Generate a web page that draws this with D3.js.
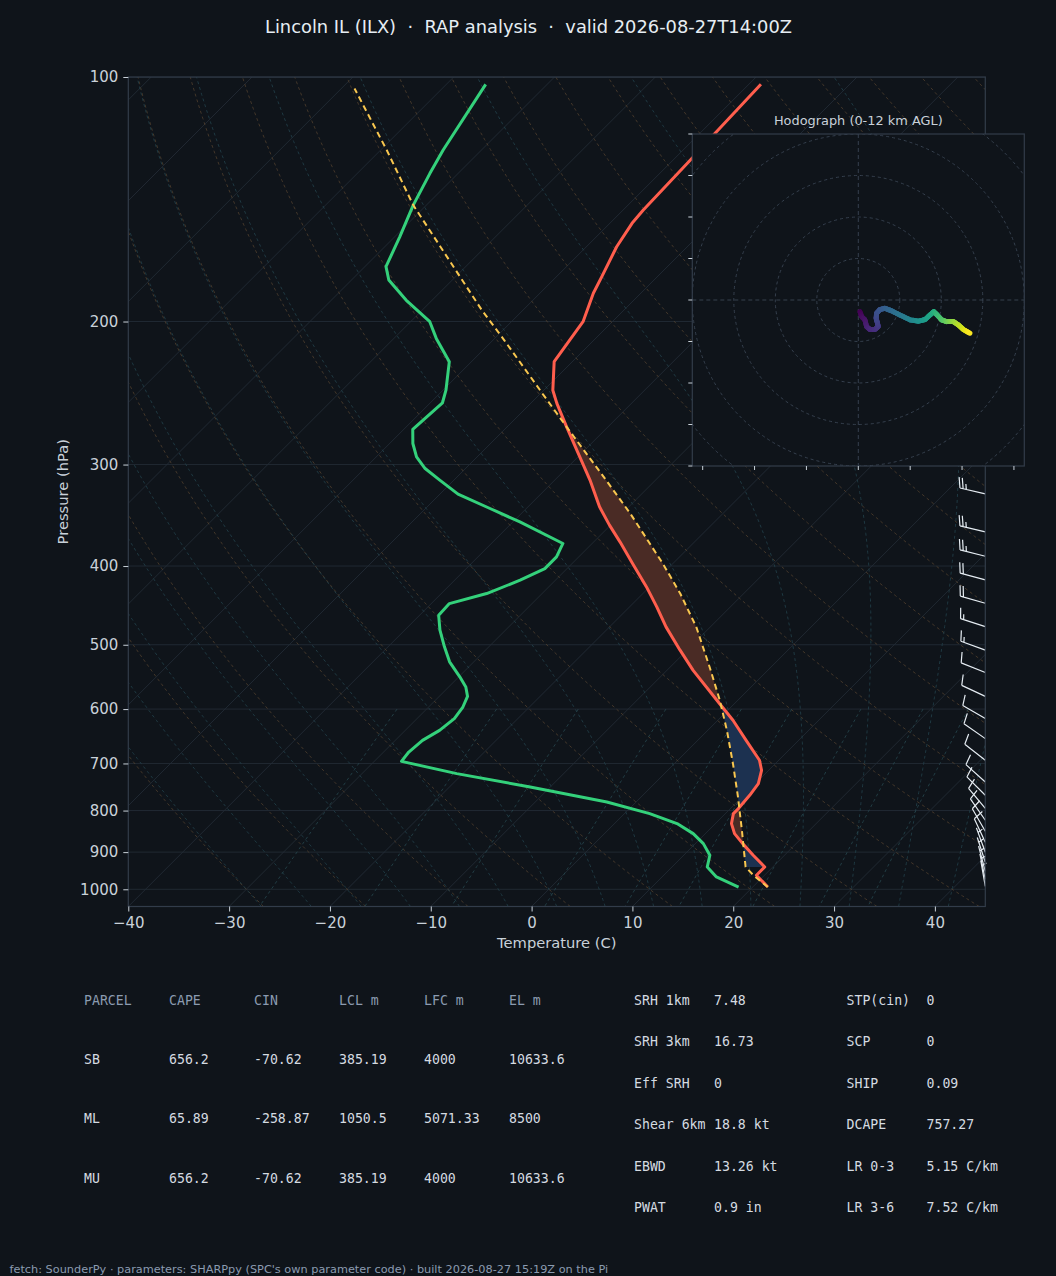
<!DOCTYPE html>
<html lang="en">
<head>
<meta charset="UTF-8">
<title>Skew-T Lincoln IL</title>
<style>
  html, body { margin: 0; padding: 0; background: #0f141a; }
  svg { display: block; }
</style>
</head>
<body>
<script src="https://cdn.jsdelivr.net/npm/d3@7"></script>
<script>
// ---- sounding (hPa, C) ----
const tempP = [993.6, 961.0, 938.6, 908.1, 878.6, 854.0, 830.1, 806.9, 795.5, 766.1, 741.1, 713.7, 693.7, 655.6, 619.3, 590.6, 537.6, 507.7, 475.3, 449.1, 424.4, 397.2, 373.5, 356.2, 338.2, 313.5, 269.6, 252.2, 243.0, 224.1, 200.1, 184.6, 176.2, 161.8, 151.4, 145.8, 125.9, 117.5, 102.1];
const tempT = [21.5, 19.2, 19.2, 16.9, 14.7, 12.9, 11.6, 10.8, 10.8, 10.6, 10.3, 9.3, 8.1, 4.8, 1.5, -1.5, -7.4, -10.7, -14.4, -17.3, -20.3, -24.0, -27.4, -30.1, -32.9, -36.5, -44.1, -47.4, -49.1, -51.8, -52.9, -54.7, -55.5, -57.0, -57.8, -58.0, -58.3, -58.5, -58.8];

const dewP = [993.6, 965.6, 938.6, 908.1, 878.6, 854.0, 830.1, 806.9, 780.8, 748.2, 720.5, 695.9, 677.7, 655.6, 637.3, 616.4, 596.5, 578.7, 563.5, 547.6, 524.8, 502.9, 479.7, 459.9, 444.9, 432.4, 416.4, 402.9, 389.8, 375.2, 353.0, 339.8, 326.2, 313.5, 303.4, 293.6, 282.6, 271.6, 251.8, 243.0, 224.1, 209.8, 200.1, 188.2, 177.8, 171.2, 157.3, 143.8, 131.4, 123.0, 102.1];
const dewT = [18.6, 15.4, 13.5, 12.6, 10.8, 8.8, 6.2, 2.5, -2.9, -12.0, -20.6, -27.3, -27.5, -27.3, -26.6, -26.3, -26.6, -27.2, -28.3, -29.9, -32.4, -34.4, -36.5, -38.1, -38.2, -35.5, -33.5, -32.2, -32.2, -32.9, -39.3, -43.6, -48.2, -51.4, -54.0, -56.0, -57.7, -59.1, -58.8, -59.7, -62.2, -65.8, -68.1, -72.6, -76.3, -77.9, -79.5, -81.3, -82.8, -83.8, -86.1];

const parcelP = [993.6, 961.0, 938.6, 846.0, 769.6, 700.3, 637.3, 585.0, 532.5, 475.3, 432.4, 397.2, 344.6, 312.0, 269.6, 245.3, 210.8, 193.6, 143.8, 123.0, 103.3];
const parcelT = [21.5, 18.9, 17.3, 13.3, 9.6, 5.8, 1.9, -1.8, -6.1, -11.4, -16.3, -21.0, -29.2, -35.2, -44.1, -49.8, -58.9, -64.1, -81.3, -89.4, -98.7];

// pressure span that gets the CAPE / CIN shading
const shadeRange = [938.6, 269.6];

// wind barbs (hPa, kt, deg from)
const barbP   = [991.5, 972.1, 950.3, 926.3, 900.4, 875.4, 848.4, 822.2, 794.8, 766.1, 737.7, 693.7, 652.4, 616.4, 578.7, 541.0, 507.7, 475.0, 444.5, 416.0, 389.0, 363.0, 326.0, 292.0, 262.0, 236.0, 212.0];
const barbSpd = [5, 5, 5, 5, 5, 10, 10, 10, 10, 10, 10, 10, 10, 10, 10, 10, 15, 15, 20, 20, 25, 25, 25, 25, 25, 25, 25];
const barbDir = [350, 348, 345, 342, 340, 335, 330, 325, 320, 315, 312, 308, 305, 300, 295, 292, 290, 288, 286, 285, 284, 283, 283, 284, 285, 286, 287];

// hodograph (km AGL, kt)
const hodoZ = [0, 0.3, 0.6, 1.0, 1.3, 1.6, 1.9, 2.2, 2.5, 2.8, 3.1, 3.5, 4.0, 4.6, 5.3, 6.0, 6.5, 7.0, 7.5, 8.0, 8.6, 9.2, 10.0, 10.6, 11.2, 12.0];
const hodoU = [0.4, 0.8, 1.6, 2.0, 2.8, 4.0, 4.8, 4.6, 4.3, 4.4, 5.2, 6.4, 8.0, 10.0, 12.5, 14.5, 16.1, 17.3, 18.2, 19.0, 20.1, 21.3, 22.9, 24.1, 25.3, 26.9];
const hodoV = [-2.8, -4.0, -4.8, -6.4, -7.1, -7.1, -6.4, -5.5, -4.4, -3.2, -2.3, -2.0, -2.6, -3.6, -4.8, -5.1, -4.7, -3.6, -2.8, -3.6, -4.8, -5.2, -5.2, -6.0, -7.1, -8.0];

// ticks and background line families
const pTicks = [100, 200, 300, 400, 500, 600, 700, 800, 900, 1000];
const tTicks = [-40, -30, -20, -10, 0, 10, 20, 30, 40];
const isotherms = d3.range(-160, 50, 10);
const dryTheta = d3.range(-30, 201, 10);
const moistT0 = d3.range(-30, 46, 5);
const mixW = [0.0004, 0.001, 0.002, 0.004, 0.007, 0.01, 0.016, 0.024, 0.032];
const hodoRings = [10, 20, 30, 40, 50];
const hodoYTicks = [-40, -30, -20, -10, 0, 10, 20, 30, 40];
const hodoXTicks = [-37.5, -25, -12.5, 0, 12.5, 25, 37.5];

// parameter tables
const parcelHeader = ['PARCEL', 'CAPE', 'CIN', 'LCL m', 'LFC m', 'EL m'];
const parcelName = ['SB', 'ML', 'MU'];
const capeVals = ['656.2', '65.89', '656.2'];
const cinVals = ['-70.62', '-258.87', '-70.62'];
const lclVals = ['385.19', '1050.5', '385.19'];
const lfcVals = ['4000', '5071.33', '4000'];
const elVals = ['10633.6', '8500', '10633.6'];
const kinLabels = ['SRH 1km', 'SRH 3km', 'Eff SRH', 'Shear 6km', 'EBWD', 'PWAT'];
const kinVals = ['7.48', '16.73', '0', '18.8 kt', '13.26 kt', '0.9 in'];
const thermoLabels = ['STP(cin)', 'SCP', 'SHIP', 'DCAPE', 'LR 0-3', 'LR 3-6'];
const thermoVals = ['0', '0', '0.09', '757.27', '5.15 C/km', '7.52 C/km'];

const titleText = 'Lincoln IL (ILX)  \u00b7  RAP analysis  \u00b7  valid 2026-08-27T14:00Z';
const footText = "fetch: SounderPy \u00b7 parameters: SHARPpy (SPC's own parameter code) \u00b7 built 2026-08-27 15:19Z on the Pi";

// ---- look ----
const W = 1056, H = 1276;
const bg = '#0f141a';
const spine = '#323c4a';
const gridCol = '#232b35';
const txt = '#c9d1d9';
const muted = '#8b9bb0';
const sans = "'DejaVu Sans', sans-serif";
const mono = "'DejaVu Sans Mono', monospace";

const plot = {left: 128.3, right: 985.3, top: 77, bottom: 906.5};

const svg = d3.create('svg')
    .attr('width', W)
    .attr('height', H)
    .attr('viewBox', [0, 0, W, H]);

svg.append('rect').attr('width', W).attr('height', H).attr('fill', bg);

const y = d3.scaleLog().domain([1050, 100]).range([plot.bottom, plot.top]);
const x = d3.scaleLinear().domain([-40, 45]).range([plot.left, plot.right]);
// 45 degree skew about the bottom of the frame
const sx = (t, p) => x(t) + (plot.bottom - y(p));

svg.append('defs').append('clipPath').attr('id', 'plotClip')
  .append('rect')
    .attr('x', plot.left).attr('y', plot.top)
    .attr('width', plot.right - plot.left).attr('height', plot.bottom - plot.top);

const gPlot = svg.append('g').attr('clip-path', 'url(#plotClip)');

const skewLine = d3.line().x(d => sx(d.t, d.p)).y(d => y(d.p));
const pGrid = d3.range(0, 81).map(i => 1050 * Math.pow(100 / 1050, i / 80));

// isobars
gPlot.selectAll('.isobar').data(pTicks).join('line')
    .attr('x1', plot.left).attr('x2', plot.right)
    .attr('y1', d => y(d)).attr('y2', d => y(d))
    .attr('stroke', gridCol).attr('stroke-width', 0.9);

// isotherms
gPlot.selectAll('.isotherm').data(isotherms).join('path')
    .attr('d', t => skewLine([{t, p: 1050}, {t, p: 100}]))
    .attr('stroke', gridCol).attr('stroke-width', 0.9).attr('fill', 'none');

// dry adiabats
gPlot.selectAll('.dry').data(dryTheta).join('path')
    .attr('d', th => skewLine(pGrid.map(p => ({p, t: (th + 273.15) * Math.pow(p / 1000, 0.2857) - 273.15}))))
    .attr('stroke', '#51402e').attr('stroke-width', 0.8)
    .attr('stroke-dasharray', '3,3').attr('fill', 'none');

// moist adiabats, integrated from 1000 hPa
function satVap(tc) { return 6.112 * Math.exp(17.67 * tc / (tc + 243.5)); }
function moistAdiabat(t0) {
  const Rd = 287.04, Cp = 1005.7, Lv = 2.501e6, eps = 0.622;
  const f = (p, T) => {
    const es = satVap(T - 273.15);
    const rs = eps * es / (p - es);
    return (Rd * T + Lv * rs) / (Cp + Lv * Lv * rs * eps / (Rd * T * T)) / p;
  };
  const rk = (p, T, dp) => {
    const k1 = f(p, T);
    const k2 = f(p + dp / 2, T + dp / 2 * k1);
    const k3 = f(p + dp / 2, T + dp / 2 * k2);
    const k4 = f(p + dp, T + dp * k3);
    return T + dp / 6 * (k1 + 2 * k2 + 2 * k3 + k4);
  };
  const up = [{p: 1000, t: t0}], down = [];
  let p = 1000, T = t0 + 273.15;
  while (p > 100) { T = rk(p, T, -5); p -= 5; up.push({p, t: T - 273.15}); }
  p = 1000; T = t0 + 273.15;
  while (p < 1050) { T = rk(p, T, 5); p += 5; down.unshift({p, t: T - 273.15}); }
  return down.concat(up);
}
gPlot.selectAll('.moist').data(moistT0).join('path')
    .attr('d', t0 => skewLine(moistAdiabat(t0)))
    .attr('stroke', '#23434c').attr('stroke-width', 0.8)
    .attr('stroke-dasharray', '3,3').attr('fill', 'none');

// mixing ratio lines 1050-600 hPa
const pMix = d3.range(0, 21).map(i => 600 + i * 22.5);
gPlot.selectAll('.mix').data(mixW).join('path')
    .attr('d', w => skewLine(pMix.map(p => {
      const e = w * p / (0.622 + w);
      const lg = Math.log(e / 6.112);
      return {p, t: 243.5 * lg / (17.67 - lg)};
    })))
    .attr('stroke', '#27474f').attr('stroke-width', 0.8)
    .attr('stroke-dasharray', '3,3').attr('fill', 'none');

// CAPE / CIN shading between environment and parcel
function interpAt(P, T, p) {
  for (let i = 0; i < P.length - 1; i++) {
    if (p <= P[i] && p >= P[i + 1]) {
      const f = (Math.log(p) - Math.log(P[i])) / (Math.log(P[i + 1]) - Math.log(P[i]));
      return T[i] + f * (T[i + 1] - T[i]);
    }
  }
  return NaN;
}
const levels = Array.from(new Set(tempP.concat(parcelP)))
    .filter(p => p <= shadeRange[0] && p >= shadeRange[1])
    .sort((a, b) => b - a);
const prof = levels.map(p => {
  const tT = interpAt(tempP, tempT, p), tP = interpAt(parcelP, parcelT, p);
  return {p, tT, tP, diff: tP - tT};
});
const shade = [];
prof.forEach((d, i) => {
  if (i > 0) {
    const a = prof[i - 1];
    if (a.diff * d.diff < 0) {
      const f = a.diff / (a.diff - d.diff);
      const pc = Math.exp(Math.log(a.p) + f * (Math.log(d.p) - Math.log(a.p)));
      const tc = a.tT + f * (d.tT - a.tT);
      shade.push({p: pc, tT: tc, tP: tc, diff: 0});
    }
  }
  shade.push(d);
});
const shadeArea = d3.area()
    .y(d => y(d.p))
    .x0(d => sx(d.tT, d.p))
    .x1(d => sx(d.tP, d.p));
gPlot.append('path')
    .attr('d', shadeArea.defined(d => d.diff >= 0)(shade))
    .attr('fill', '#4a2b25');
gPlot.append('path')
    .attr('d', shadeArea.defined(d => d.diff <= 0)(shade))
    .attr('fill', '#1c3150');

// profiles
const zipP = (P, T) => P.map((p, i) => ({p, t: T[i]}));
gPlot.append('path')
    .attr('d', skewLine(zipP(tempP, tempT)))
    .attr('fill', 'none').attr('stroke', '#ff5e4d').attr('stroke-width', 3)
    .attr('stroke-linejoin', 'round');
gPlot.append('path')
    .attr('d', skewLine(zipP(dewP, dewT)))
    .attr('fill', 'none').attr('stroke', '#34d17b').attr('stroke-width', 3)
    .attr('stroke-linejoin', 'round');
gPlot.append('path')
    .attr('d', skewLine(zipP(parcelP, parcelT)))
    .attr('fill', 'none').attr('stroke', '#f9c74f').attr('stroke-width', 2)
    .attr('stroke-dasharray', '6,4').attr('stroke-linejoin', 'round');

// wind barbs on the right edge
function barbPath(bx, by, spd, dir) {
  const L = 26, fh = 0.4 * L, fw = 0.25 * L, sp = 0.125 * L;
  const a = dir * Math.PI / 180;
  const s = [Math.sin(a), -Math.cos(a)];
  const b = [Math.cos(a), Math.sin(a)];
  const pt = (along, side) => [bx + s[0] * along + b[0] * side, by + s[1] * along + b[1] * side];
  let r = Math.round(spd / 5) * 5;
  const nFlag = Math.floor(r / 50); r -= nFlag * 50;
  const nBarb = Math.floor(r / 10); r -= nBarb * 10;
  const half = r >= 5;
  const path = d3.path();
  path.moveTo(...pt(0, 0));
  path.lineTo(...pt(L, 0));
  let off = L;
  for (let i = 0; i < nFlag; i++) {
    path.moveTo(...pt(off, 0));
    path.lineTo(...pt(off - fw / 2, fh));
    path.lineTo(...pt(off - fw, 0));
    off -= fw + sp;
  }
  for (let i = 0; i < nBarb; i++) {
    path.moveTo(...pt(off, 0));
    path.lineTo(...pt(off + fw / 2, fh));
    off -= sp;
  }
  if (half) {
    if (off === L) off -= 1.5 * sp;
    path.moveTo(...pt(off, 0));
    path.lineTo(...pt(off + fw / 4, fh / 2));
  }
  return path.toString();
}
svg.append('g').selectAll('path').data(barbP).join('path')
    .attr('d', (p, i) => barbPath(plot.right, y(p), barbSpd[i], barbDir[i]))
    .attr('fill', 'none').attr('stroke', '#e6edf3').attr('stroke-width', 1.2)
    .attr('stroke-linejoin', 'round');

// frame
svg.append('rect')
    .attr('x', plot.left).attr('y', plot.top)
    .attr('width', plot.right - plot.left).attr('height', plot.bottom - plot.top)
    .attr('fill', 'none').attr('stroke', spine).attr('stroke-width', 1.2);

// axes
const yAxis = g => g
    .attr('transform', `translate(${plot.left},0)`)
    .call(d3.axisLeft(y).tickValues(pTicks).tickFormat(d3.format('d')).tickSize(5).tickPadding(5))
    .call(g => g.select('.domain').remove());
const xAxis = g => g
    .attr('transform', `translate(0,${plot.bottom})`)
    .call(d3.axisBottom(x).tickValues(tTicks).tickFormat(d3.format('d')).tickSize(5).tickPadding(6))
    .call(g => g.select('.domain').remove());
[svg.append('g').call(yAxis), svg.append('g').call(xAxis)].forEach(g => {
  g.selectAll('line').attr('stroke', txt).attr('stroke-width', 1);
  g.selectAll('text').attr('fill', txt).style('font-family', sans).style('font-size', '15px');
});

svg.append('text')
    .attr('x', (plot.left + plot.right) / 2).attr('y', 948)
    .attr('text-anchor', 'middle').attr('fill', txt)
    .style('font-family', sans).style('font-size', '14.7px')
    .text('Temperature (C)');
svg.append('text')
    .attr('transform', `translate(68,${(plot.top + plot.bottom) / 2}) rotate(-90)`)
    .attr('text-anchor', 'middle').attr('fill', txt)
    .style('font-family', sans).style('font-size', '14.7px')
    .text('Pressure (hPa)');

svg.append('text')
    .attr('x', 528.5).attr('y', 33.3)
    .attr('text-anchor', 'middle').attr('fill', '#e6edf3')
    .style('font-family', sans).style('font-size', '17.85px').style('white-space', 'pre')
    .text(titleText);

// ---- hodograph inset ----
const hbox = {left: 692.3, right: 1024.3, top: 134, bottom: 466};
const hx = d3.scaleLinear().domain([-40, 40]).range([hbox.left, hbox.right]);
const hy = d3.scaleLinear().domain([-40, 40]).range([hbox.bottom, hbox.top]);
const hodo = svg.append('g');
hodo.append('rect')
    .attr('x', hbox.left).attr('y', hbox.top)
    .attr('width', hbox.right - hbox.left).attr('height', hbox.bottom - hbox.top)
    .attr('fill', bg);
svg.select('defs').append('clipPath').attr('id', 'hodoClip')
  .append('rect')
    .attr('x', hbox.left).attr('y', hbox.top)
    .attr('width', hbox.right - hbox.left).attr('height', hbox.bottom - hbox.top);
const hIn = hodo.append('g').attr('clip-path', 'url(#hodoClip)');
hIn.selectAll('circle').data(hodoRings).join('circle')
    .attr('cx', hx(0)).attr('cy', hy(0))
    .attr('r', d => hx(d) - hx(0))
    .attr('fill', 'none').attr('stroke', '#3a4554').attr('stroke-width', 0.9)
    .attr('stroke-dasharray', '3,3');
hIn.append('line')
    .attr('x1', hbox.left).attr('x2', hbox.right).attr('y1', hy(0)).attr('y2', hy(0))
    .attr('stroke', '#3a4554').attr('stroke-width', 0.9).attr('stroke-dasharray', '4,3');
hIn.append('line')
    .attr('x1', hx(0)).attr('x2', hx(0)).attr('y1', hbox.top).attr('y2', hbox.bottom)
    .attr('stroke', '#3a4554').attr('stroke-width', 0.9).attr('stroke-dasharray', '4,3');

const hodoSegs = [];
for (let i = 0; i < hodoZ.length - 1; i++) {
  const n = 6;
  for (let k = 0; k < n; k++) {
    const f0 = k / n, f1 = (k + 1) / n;
    hodoSegs.push({
      u0: hodoU[i] + (hodoU[i + 1] - hodoU[i]) * f0, v0: hodoV[i] + (hodoV[i + 1] - hodoV[i]) * f0,
      u1: hodoU[i] + (hodoU[i + 1] - hodoU[i]) * f1, v1: hodoV[i] + (hodoV[i + 1] - hodoV[i]) * f1,
      z: hodoZ[i] + (hodoZ[i + 1] - hodoZ[i]) * (f0 + f1) / 2
    });
  }
}
hIn.selectAll('.seg').data(hodoSegs).join('line')
    .attr('x1', d => hx(d.u0)).attr('y1', d => hy(d.v0))
    .attr('x2', d => hx(d.u1)).attr('y2', d => hy(d.v1))
    .attr('stroke', d => d3.interpolateViridis(d.z / 12))
    .attr('stroke-width', 5).attr('stroke-linecap', 'round');

hodo.append('rect')
    .attr('x', hbox.left).attr('y', hbox.top)
    .attr('width', hbox.right - hbox.left).attr('height', hbox.bottom - hbox.top)
    .attr('fill', 'none').attr('stroke', spine).attr('stroke-width', 1.2);
hodo.selectAll('.ytick').data(hodoYTicks).join('line')
    .attr('x1', hbox.left - 4).attr('x2', hbox.left)
    .attr('y1', d => hy(d)).attr('y2', d => hy(d))
    .attr('stroke', txt).attr('stroke-width', 1);
hodo.selectAll('.xtick').data(hodoXTicks).join('line')
    .attr('x1', d => hx(d)).attr('x2', d => hx(d))
    .attr('y1', hbox.bottom).attr('y2', hbox.bottom + 4)
    .attr('stroke', txt).attr('stroke-width', 1);
hodo.append('text')
    .attr('x', (hbox.left + hbox.right) / 2).attr('y', 124.7)
    .attr('text-anchor', 'middle').attr('fill', txt)
    .style('font-family', sans).style('font-size', '12.9px')
    .text('Hodograph (0-12 km AGL)');

// ---- parameter tables ----
const colX = [84, 169, 254, 339, 424, 509];
const rowY = [1059, 1118.5, 1178];
const tbl = svg.append('g').style('font-family', mono).style('font-size', '13.2px');
tbl.selectAll('.hdr').data(parcelHeader).join('text')
    .attr('x', (d, i) => colX[i]).attr('y', 1004.8)
    .attr('fill', muted).style('white-space', 'pre').text(d => d);
const parcelCols = [parcelName, capeVals, cinVals, lclVals, lfcVals, elVals];
parcelCols.forEach((col, c) => {
  tbl.append('g').selectAll('text').data(col).join('text')
      .attr('x', colX[c]).attr('y', (d, r) => rowY[r] + 4.8)
      .attr('fill', '#d5dbe1').text(d => d);
});
const prmY = [1000, 1041.5, 1083, 1124.5, 1166, 1207.5];
const prmCols = [[kinLabels, 634], [kinVals, 714], [thermoLabels, 846.5], [thermoVals, 926.5]];
prmCols.forEach(([col, cx]) => {
  tbl.append('g').selectAll('text').data(col).join('text')
      .attr('x', cx).attr('y', (d, r) => prmY[r] + 4.8)
      .attr('fill', '#d5dbe1').text(d => d);
});

svg.append('text')
    .attr('x', 9.5).attr('y', 1273)
    .attr('fill', muted)
    .style('font-family', sans).style('font-size', '11.3px')
    .text(footText);

document.querySelector('body').appendChild(svg.node());
</script>
</body>
</html>
